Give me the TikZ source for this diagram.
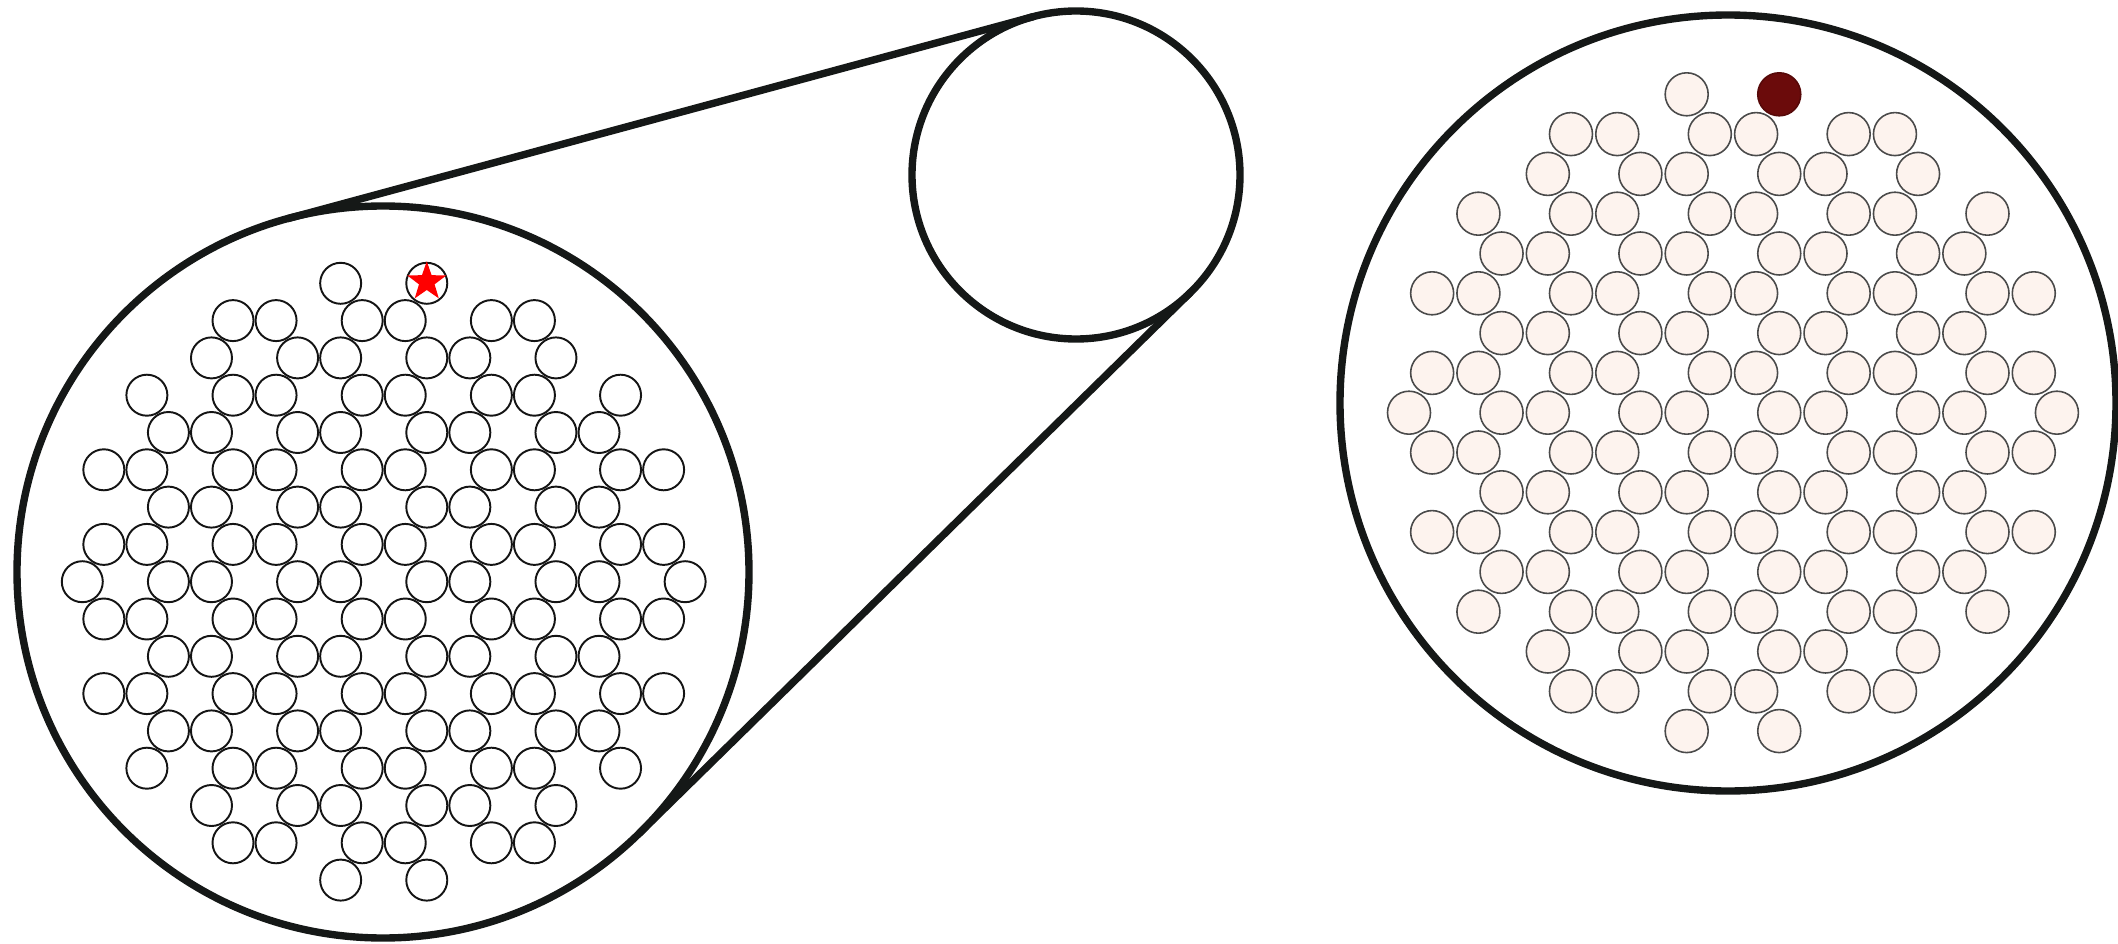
\documentclass[tikz,border=0pt]{standalone}
\usetikzlibrary{shapes.geometric}
\definecolor{ringcol}{HTML}{151817}
\definecolor{beadfill}{HTML}{FDF3EE}
\definecolor{beadline}{HTML}{4A4A4A}
\definecolor{darkbead}{HTML}{6B0B0B}
\begin{document}
\begin{tikzpicture}[x=1cm,y=1cm,
  ring/.style={draw=ringcol, line width=2.1pt},
  lbead/.style={circle, draw=black!92, line width=0.55pt, minimum size=0.41cm, inner sep=0pt},
  rbead/.style={circle, draw=beadline, fill=beadfill, line width=0.45pt, minimum size=0.43cm, inner sep=0pt},
  hotbead/.style={circle, draw=darkbead!80!black, fill=darkbead, line width=0.45pt, minimum size=0.43cm, inner sep=0pt},
  redstar/.style={star, star points=5, star point ratio=2.5, fill=red, draw=none, inner sep=0pt, minimum size=0.41cm}]
\useasboundingbox (0,0) rectangle (21.18,9.43);
% rings
\coordinate (C1) at (3.83,3.71);
\coordinate (C2) at (10.76,7.68);
\coordinate (C3) at (17.28,5.40);
\draw[ring] (C1) circle (3.66);
\draw[ring] (C2) circle (1.64);
\draw[ring] (C3) circle (3.88);
% tangent lines of the magnifier
\coordinate (T1) at ([shift={(105.15:3.66)}]C1);
\coordinate (T2) at ([shift={(105.15:1.64)}]C2);
\coordinate (B1) at ([shift={(-45.55:3.66)}]C1);
\coordinate (B2) at ([shift={(-45.55:1.64)}]C2);
\draw[ring] (T1) -- (T2);
\draw[ring] (B1) -- (B2);
% bead pattern
\foreach \r/\lst in {0/{12,16},1/{7,9,13,15,19,21},2/{6,10,12,16,18,22},
  3/{3,7,9,13,15,19,21,25},4/{4,6,10,12,16,18,22,24},
  5/{1,3,7,9,13,15,19,21,25,27},6/{4,6,10,12,16,18,22,24},
  7/{1,3,7,9,13,15,19,21,25,27},8/{0,4,6,10,12,16,18,22,24,28},
  9/{1,3,7,9,13,15,19,21,25,27},10/{4,6,10,12,16,18,22,24},
  11/{1,3,7,9,13,15,19,21,25,27},12/{4,6,10,12,16,18,22,24},
  13/{3,7,9,13,15,19,21,25},14/{6,10,12,16,18,22},
  15/{7,9,13,15,19,21},16/{12,16}}{
  \foreach \u in \lst {
    \node[lbead] (L-\r-\u) at ({0.823+0.2153*\u},{6.597-0.373*\r}) {};
    \ifnum\r=0 \ifnum\u=16
      \node[hotbead] (R-\r-\u) at ({14.09+0.2314*\u},{8.487-0.398*\r}) {};
    \else
      \node[rbead] (R-\r-\u) at ({14.09+0.2314*\u},{8.487-0.398*\r}) {};
    \fi\else
      \node[rbead] (R-\r-\u) at ({14.09+0.2314*\u},{8.487-0.398*\r}) {};
    \fi
  }
}
\node[redstar] (star) at ([yshift=0.015cm]L-0-16) {};
\end{tikzpicture}
\end{document}
